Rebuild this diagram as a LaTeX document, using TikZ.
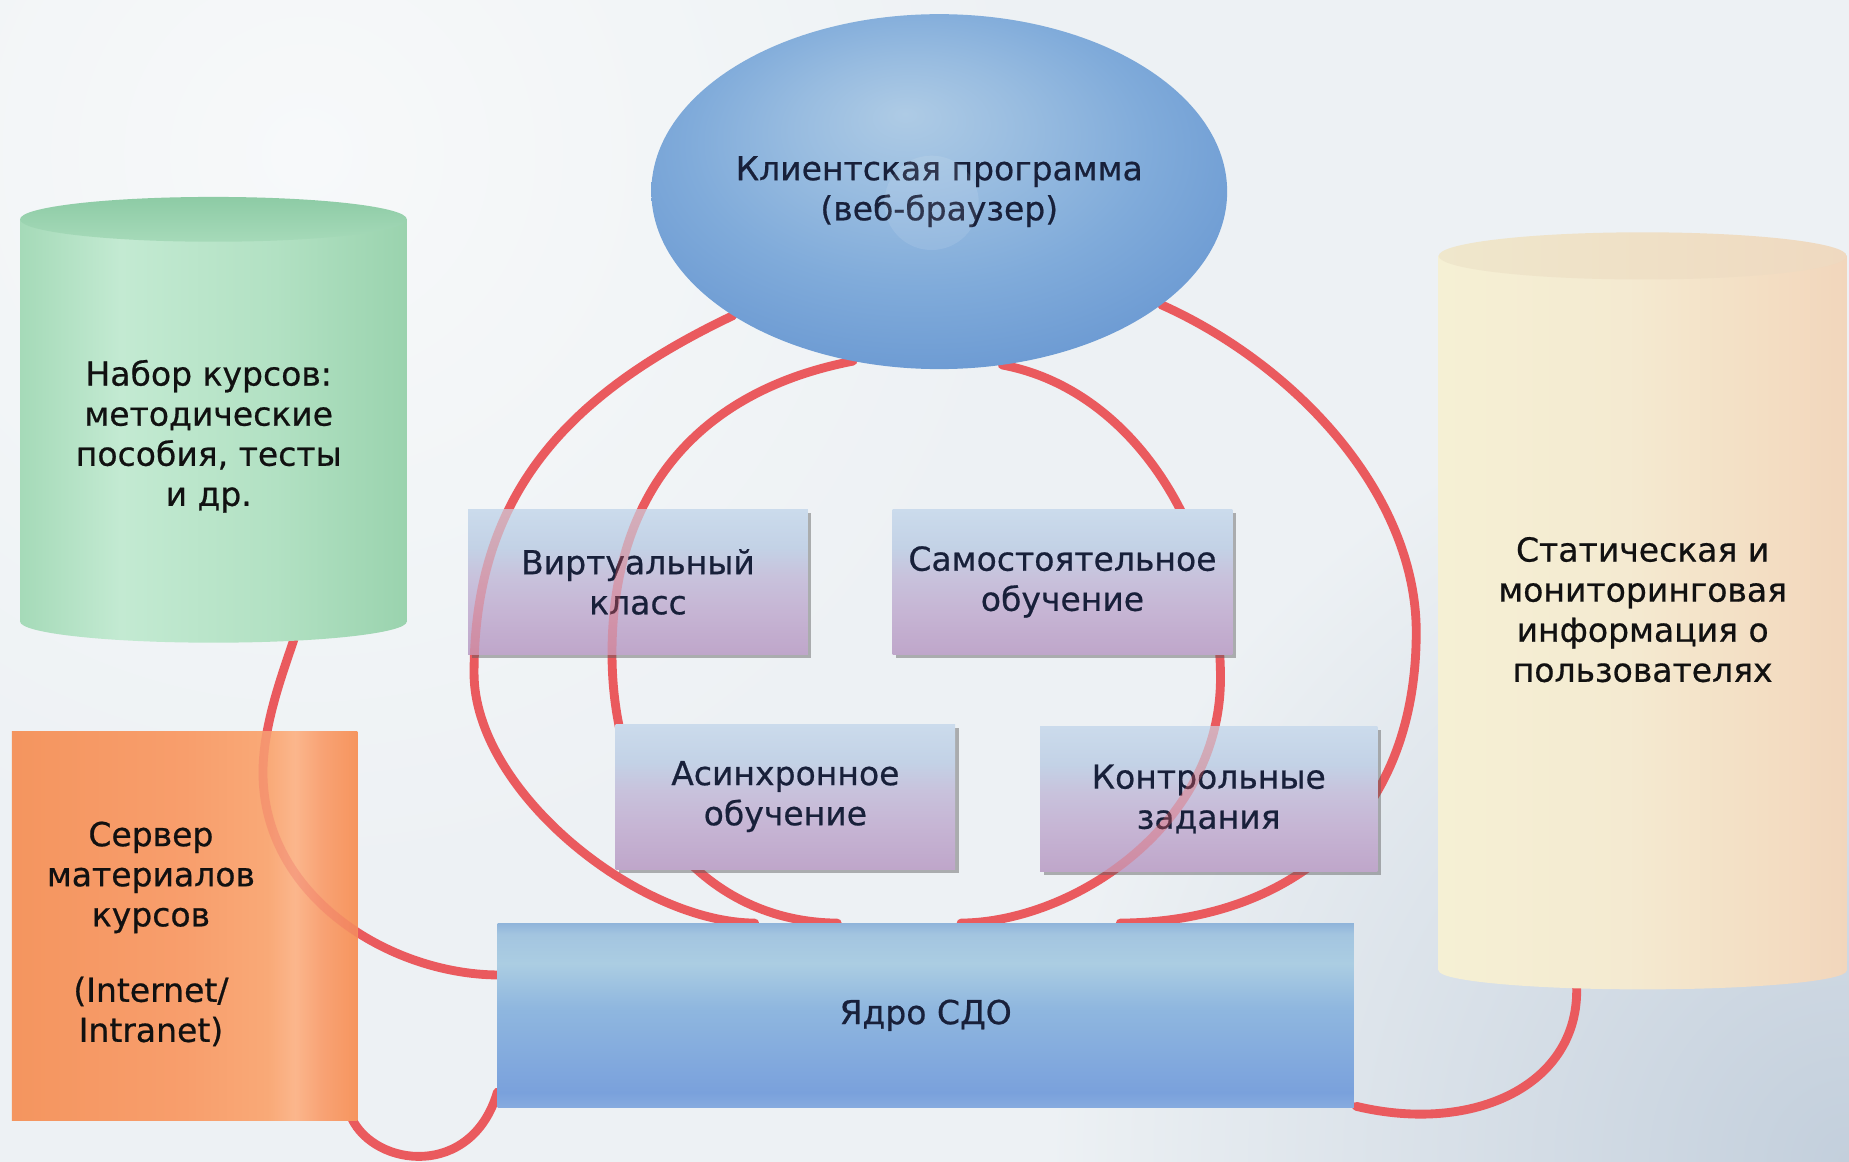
\documentclass[tikz,border=0pt]{standalone}
\usepackage{fontspec}
\setmainfont{DejaVu Sans}[FakeBold=0.6]
\newfontfamily\lblfont{DejaVu Sans}[FakeBold=0.6]
\usetikzlibrary{shapes.geometric,shadows,calc}

\definecolor{arcred}{HTML}{EA5A5E}
\definecolor{bgbase}{HTML}{EDF1F4}
\definecolor{bgcorner}{HTML}{C3CFDC}
\definecolor{bglight}{HTML}{F7F9FA}
\definecolor{txtdark}{HTML}{111111}
\definecolor{txtnavy}{HTML}{18203A}
% small boxes
\definecolor{sbTop}{HTML}{CBDBEC}
\definecolor{sbA}{HTML}{C3D2E6}
\definecolor{sbB}{HTML}{C8C2DC}
\definecolor{sbC}{HTML}{C6B5D4}
\definecolor{sbBot}{HTML}{BFA6CA}
% core
\definecolor{coA}{HTML}{86ABDF}
\definecolor{coB}{HTML}{7AA1DC}
\definecolor{coC}{HTML}{8FB7DF}
\definecolor{coD}{HTML}{ABCDE2}
\definecolor{coE}{HTML}{A3C5E0}
\definecolor{coF}{HTML}{90B4DA}
% ellipse
\definecolor{elA}{HTML}{AECBE5}
\definecolor{elB}{HTML}{98BCE0}
\definecolor{elC}{HTML}{80ABDA}
\definecolor{elD}{HTML}{6D9BD3}
% green
\definecolor{grA}{HTML}{A5DAB8}
\definecolor{grB}{HTML}{C3EAD2}
\definecolor{grC}{HTML}{B2E1C3}
\definecolor{grD}{HTML}{9AD3AE}
\definecolor{grCapT}{HTML}{8DCBA5}
\definecolor{grCapB}{HTML}{A6DAB9}
% beige
\definecolor{bgA}{HTML}{F5F0D4}
\definecolor{bgB}{HTML}{F4EAD1}
\definecolor{bgC}{HTML}{F3DDC2}
\definecolor{bgD}{HTML}{F2D6BC}
\definecolor{bgCapL}{HTML}{EFE7CC}
\definecolor{bgCapR}{HTML}{EFD9C0}
% orange
\definecolor{orA}{HTML}{F4955F}
\definecolor{orB}{HTML}{F89E6C}
\definecolor{orC}{HTML}{F9A977}
\definecolor{orD}{HTML}{FBB68C}
\definecolor{orE}{HTML}{F8A274}
\definecolor{orF}{HTML}{F6955E}

\pgfdeclareverticalshading{smallboxsh}{100bp}{color(0bp)=(sbBot); color(25bp)=(sbBot); color(40bp)=(sbC); color(52bp)=(sbB); color(62bp)=(sbA); color(75bp)=(sbTop); color(100bp)=(sbTop)}
\pgfdeclareverticalshading{coresh}{100bp}{color(0bp)=(coA); color(25bp)=(coA); color(29bp)=(coB); color(52bp)=(coC); color(64bp)=(coD); color(72bp)=(coE); color(75bp)=(coF); color(100bp)=(coF)}
\pgfdeclareradialshading{ellsh}{\pgfpoint{-3bp}{11bp}}{color(0bp)=(elA); color(10bp)=(elB); color(20bp)=(elC); color(30bp)=(elD); color(50bp)=(elD)}
\pgfdeclarehorizontalshading{greensh}{100bp}{color(0bp)=(grA); color(25bp)=(grA); color(38bp)=(grB); color(58bp)=(grC); color(75bp)=(grD); color(100bp)=(grD)}
\pgfdeclarehorizontalshading{beigesh}{100bp}{color(0bp)=(bgA); color(25bp)=(bgA); color(48bp)=(bgB); color(66bp)=(bgC); color(75bp)=(bgD); color(100bp)=(bgD)}
\pgfdeclarehorizontalshading{orangesh}{100bp}{color(0bp)=(orA); color(25bp)=(orA); color(50bp)=(orB); color(62bp)=(orC); color(66bp)=(orD); color(70bp)=(orE); color(75bp)=(orF); color(100bp)=(orF)}

\pgfdeclarelayer{back}
\pgfdeclarelayer{arcs}
\pgfdeclarelayer{front}
\pgfsetlayers{back,arcs,main,front}

\begin{document}
\begin{tikzpicture}[x=1pt,y=-1pt,
  arcst/.style={draw=arcred, line width=7.5pt, line cap=round},
  bigtxt/.style={font=\lblfont\fontsize{28}{34}\selectfont, align=center},
  smallbox/.style={rectangle, minimum width=288, minimum height=123, inner sep=0,
    shade, shading=smallboxsh,
    drop shadow={shadow xshift=3pt, shadow yshift=-3pt, opacity=0.45, fill=black!65},
    bigtxt, text=txtnavy},
  plaintxt/.style={bigtxt, text=txtdark, inner sep=0},
]
\useasboundingbox (0,0) rectangle (1568,985);

% ---------- background ----------
\begin{pgfonlayer}{back}
  \fill[bgbase] (0,0) rectangle (1568,985);
  \shade[inner color=bglight, outer color=bgbase] (260,130) circle (620);
  \shade[inner color=bgcorner, outer color=bgbase] (1568,985) circle (680);
\end{pgfonlayer}

% ---------- main nodes ----------
\node[ellipse, minimum width=483, minimum height=301, inner sep=0,
      shade, shading=ellsh, bigtxt, text=txtnavy] (cl) at (796.5,162.5)
      {Клиентская программа\\(веб-браузер)};
\fill[white, opacity=0.10] (790,172) circle (40);

\node[rectangle, minimum width=726, minimum height=156, inner sep=0,
      shade, shading=coresh, bigtxt, text=txtnavy] (core) at (785,861) {Ядро СДО};

\node[smallbox] (vk) at (541,493.5) {Виртуальный\\класс};
\node[smallbox] (so) at (901,493.5) {Самостоятельное\\обучение};
\node[smallbox] (as) at (666,675.5) {Асинхронное\\обучение};
\node[smallbox, minimum width=286] (kz) at (1025,677.5) {Контрольные\\задания};

% green cylinder
\shade[shading=greensh] (17,186) rectangle (345,527);
\shade[shading=greensh] (181,527) ellipse [x radius=164, y radius=18];
\shade[top color=grCapT, bottom color=grCapB] (181,186) ellipse [x radius=164, y radius=19];
\node[plaintxt] (kurs) at (177,370) {Набор курсов:\\методические\\пособия, тесты\\и др.};
\coordinate (kursbot) at (249,543);

% orange box
\node[rectangle, minimum width=293, minimum height=330, inner sep=0,
      shade, shading=orangesh] (srv) at (156.5,785) {};
\node[plaintxt] (srvt) at (128,792) {Сервер\\материалов\\курсов\\[30pt](Internet/\\Intranet)};

% beige cylinder
\shade[shading=beigesh] (1220,217) rectangle (1566,823);
\shade[shading=beigesh] (1393,823) ellipse [x radius=173, y radius=16];
\shade[left color=bgCapL, right color=bgCapR] (1393,217) ellipse [x radius=173, y radius=20];
\node[plaintxt] (stat) at (1393,517) {Статическая и\\мониторинговая\\информация о\\пользователях};
\coordinate (statbot) at (1337,836);

% ---------- connector paths ----------
\def\pOutL{(cl.211) .. controls (480,335) and (402,420) .. (402,571)
   .. controls (402,670) and (540,782) .. ($(core.north)+(-145,0)$)}
\def\pInL{(cl.243) .. controls (600,330) and (519,410) .. (519,554)
   .. controls (519,690) and (600,782) .. ($(core.north)+(-75,0)$)}
\def\pInR{(cl.290) .. controls (960,330) and (1035,450) .. (1035,575)
   .. controls (1035,700) and (910,782) .. ($(core.north)+(30,0)$)}
\def\pOutR{(cl.333) .. controls (1100,310) and (1201,420) .. (1201,536)
   .. controls (1201,700) and (1090,782) .. ($(core.north)+(165,0)$)}
\def\pGreen{(kursbot) .. controls (240,570) and (223,615) .. (223,655)
   .. controls (223,760) and (330,826) .. ($(core.north west)+(0,44)$)}
\def\pOrange{($(srv.south east)+(-5,-2)$) .. controls (318,990) and (400,1000) .. ($(core.south west)+(0,-13)$)}
\def\pBeige{(statbot) .. controls (1340,920) and (1250,962) .. ($(core.south east)+(2,-1)$)}

\begin{pgfonlayer}{arcs}
  \draw[arcst] \pOutL;
  \draw[arcst] \pInL;
  \draw[arcst] \pInR;
  \draw[arcst] \pOutR;
  \draw[arcst] \pGreen;
  \draw[arcst] \pOrange;
  \draw[arcst] \pBeige;
\end{pgfonlayer}

% arcs seen through the translucent boxes
\begin{pgfonlayer}{front}
  \begin{scope}
    \clip (vk.south west) rectangle (vk.north east);
    \draw[arcst, opacity=0.35] \pInL;
    \draw[arcst, opacity=0.35] \pOutL;
  \end{scope}
  \begin{scope}
    \clip (kz.south west) rectangle (kz.north east);
    \draw[arcst, opacity=0.35] \pInR;
  \end{scope}
  \begin{scope}
    \clip (srv.south west) rectangle (srv.north east);
    \draw[arcst, opacity=0.25] \pGreen;
  \end{scope}
\end{pgfonlayer}
\end{tikzpicture}
\end{document}
